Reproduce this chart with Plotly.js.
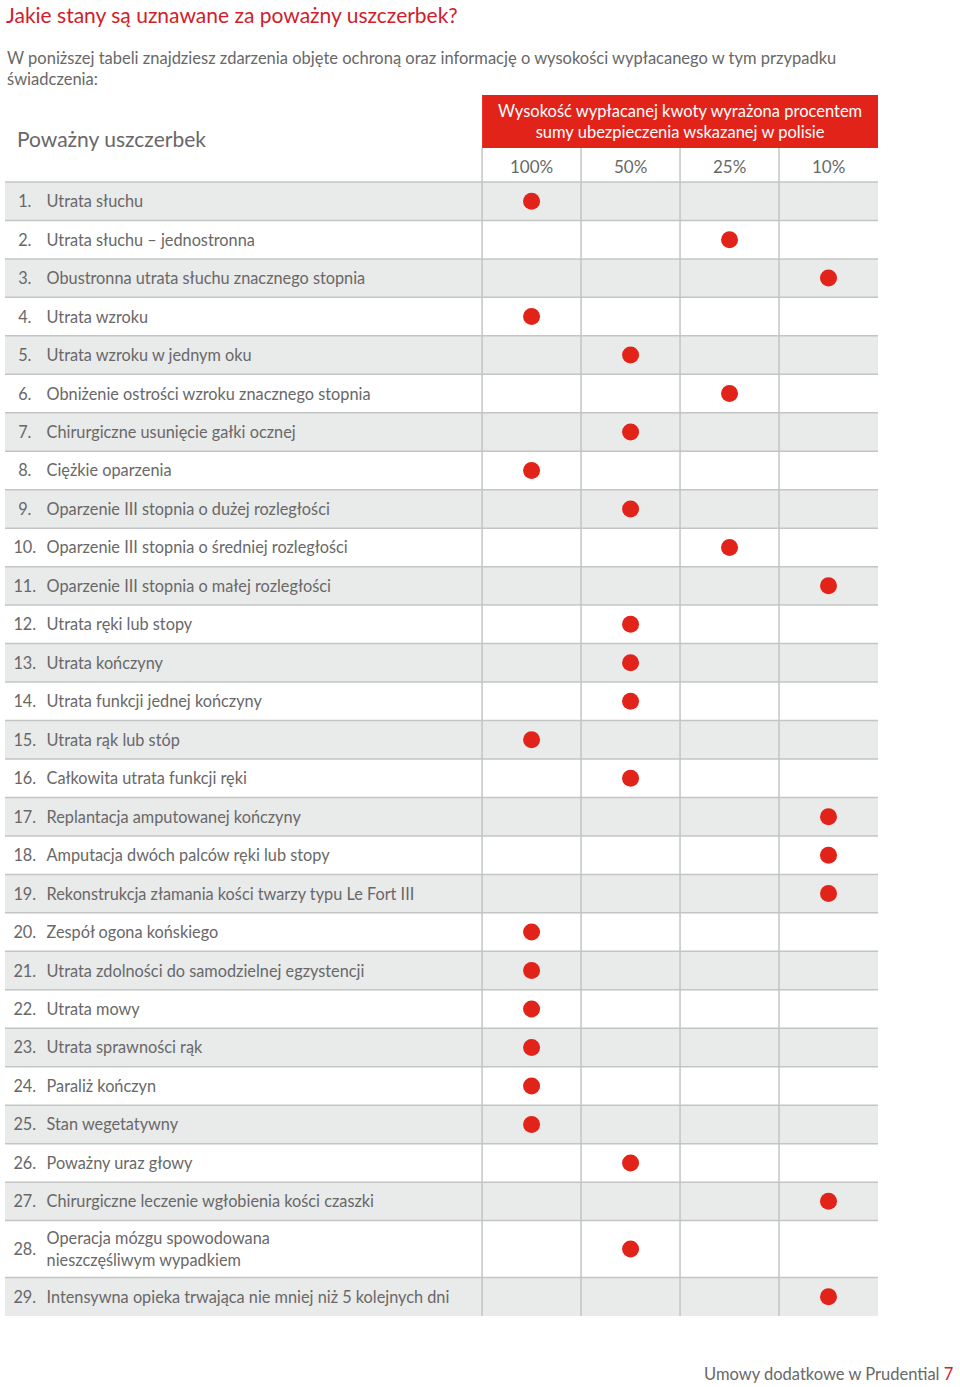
<!DOCTYPE html>
<html>
<head>
<meta charset="utf-8">
<script src="https://cdn.plot.ly/plotly-3.0.1.min.js"></script>
<style>
html,body{margin:0;padding:0;background:#fff;}
#chart{width:960px;height:1387px;}
</style>
</head>
<body>
<div id="chart"></div>
<script>
// ---------- DATA ----------
const conditions = [
  "Utrata słuchu",
  "Utrata słuchu – jednostronna",
  "Obustronna utrata słuchu znacznego stopnia",
  "Utrata wzroku",
  "Utrata wzroku w jednym oku",
  "Obniżenie ostrości wzroku znacznego stopnia",
  "Chirurgiczne usunięcie gałki ocznej",
  "Ciężkie oparzenia",
  "Oparzenie III stopnia o dużej rozległości",
  "Oparzenie III stopnia o średniej rozległości",
  "Oparzenie III stopnia o małej rozległości",
  "Utrata ręki lub stopy",
  "Utrata kończyny",
  "Utrata funkcji jednej kończyny",
  "Utrata rąk lub stóp",
  "Całkowita utrata funkcji ręki",
  "Replantacja amputowanej kończyny",
  "Amputacja dwóch palców ręki lub stopy",
  "Rekonstrukcja złamania kości twarzy typu Le Fort III",
  "Zespół ogona końskiego",
  "Utrata zdolności do samodzielnej egzystencji",
  "Utrata mowy",
  "Utrata sprawności rąk",
  "Paraliż kończyn",
  "Stan wegetatywny",
  "Poważny uraz głowy",
  "Chirurgiczne leczenie wgłobienia kości czaszki",
  "Operacja mózgu spowodowana<br>nieszczęśliwym wypadkiem",
  "Intensywna opieka trwająca nie mniej niż 5 kolejnych dni"
];
const payoutLevels = ["100%", "50%", "25%", "10%"];
const payout = [
  "100%", "25%", "10%", "100%", "50%", "25%", "50%", "100%", "50%", "25%",
  "10%", "50%", "50%", "50%", "100%", "50%", "10%", "10%", "10%", "100%",
  "100%", "100%", "100%", "100%", "100%", "50%", "10%", "50%", "10%"
];
const titleText = "Jakie stany są uznawane za poważny uszczerbek?";
const introText = "W poniższej tabeli znajdziesz zdarzenia objęte ochroną oraz informację o wysokości wypłacanego w tym przypadku<br>świadczenia:";
const leftHeader = "Poważny uszczerbek";
const rightHeader = "Wysokość wypłacanej kwoty wyrażona procentem<br>sumy ubezpieczenia wskazanej w polisie";
const footerText = "Umowy dodatkowe w Prudential <span style='color:#c8262c'>7</span>";

// ---------- LAYOUT GEOMETRY ----------
const W = 960, H = 1387;
const ml = 5, mr = 82, mt = 95, mb = 71;
const plotW = W - ml - mr, plotH = H - mt - mb;
const xMin = -5.32, xMax = 3.5;
const pctRowH = 0.883, redBoxH = 1.377;
const textShift = 0.05;

const rowH = conditions.map(c => c.split('<br>').length > 1 ? 1.48 : 1);
const rowTop = [];
let acc = 0;
rowH.forEach(h => { rowTop.push(acc); acc += h; });
const total = acc;
const rowMid = rowTop.map((t, i) => t + rowH[i] / 2);
const textMid = rowMid.map(v => v + textShift);
const yTopRange = -(pctRowH + redBoxH);

const px2paperX = px => (px - ml) / plotW;
const px2paperY = py => 1 - (py - mt) / plotH;

const RED = '#e2231a';
const GRAY_TXT = '#686868';
const LINE = '#c3c4c4';
const FILL = '#e9eaea';
const FONT = 'Lato, sans-serif';

// ---------- SHAPES ----------
const shapes = [];
rowTop.forEach((t, i) => {
  if (i % 2 === 0) {
    shapes.push({type: 'rect', xref: 'x', yref: 'y', x0: xMin, x1: xMax, y0: t, y1: t + rowH[i],
      fillcolor: FILL, line: {width: 0}, layer: 'below'});
  }
});
rowTop.forEach(t => {
  shapes.push({type: 'line', xref: 'x', yref: 'y', x0: xMin, x1: xMax, y0: t, y1: t,
    line: {color: LINE, width: 1.5}, layer: 'below'});
});
for (let i = 0; i < payoutLevels.length; i++) {
  shapes.push({type: 'line', xref: 'x', yref: 'y', x0: i - 0.5, x1: i - 0.5, y0: -pctRowH, y1: total,
    line: {color: LINE, width: 1.5}, layer: 'below'});
}
shapes.push({type: 'rect', xref: 'x', yref: 'y', x0: -0.5, x1: xMax, y0: yTopRange, y1: -pctRowH,
  fillcolor: RED, line: {width: 0}, layer: 'below'});

// ---------- ANNOTATIONS ----------
const annotations = [];
payoutLevels.forEach((p, i) => {
  annotations.push({xref: 'x', yref: 'y', x: i, y: -pctRowH / 2 + textShift, text: p, showarrow: false,
    font: {family: FONT, size: 17, color: GRAY_TXT}, xanchor: 'center', yanchor: 'middle'});
});
annotations.push({xref: 'x', yref: 'y', x: 1.5, y: yTopRange + redBoxH / 2, text: rightHeader, showarrow: false,
  font: {family: FONT, size: 16.5, color: '#ffffff'}, xanchor: 'center', yanchor: 'middle', align: 'center'});
annotations.push({xref: 'paper', yref: 'paper', x: px2paperX(15), y: px2paperY(139), text: leftHeader, showarrow: false,
  font: {family: FONT, size: 21, color: GRAY_TXT}, xanchor: 'left', yanchor: 'middle'});
annotations.push({xref: 'paper', yref: 'paper', x: px2paperX(5), y: px2paperY(69), text: introText, showarrow: false,
  font: {family: FONT, size: 16.5, color: GRAY_TXT}, xanchor: 'left', yanchor: 'middle', align: 'left'});
annotations.push({xref: 'paper', yref: 'paper', x: px2paperX(955), y: px2paperY(1374), text: footerText, showarrow: false,
  font: {family: FONT, size: 16.5, color: GRAY_TXT}, xanchor: 'right', yanchor: 'middle'});
annotations.push({xref: 'paper', yref: 'paper', x: px2paperX(4), y: px2paperY(15), text: titleText, showarrow: false,
  font: {family: FONT, size: 21, color: '#d0202a'}, xanchor: 'left', yanchor: 'middle'});

// ---------- TRACES ----------
const numTrace = {
  type: 'scatter', mode: 'text', x: conditions.map(() => -5.12), y: textMid,
  text: conditions.map((_, i) => (i + 1) + '.'), textposition: 'middle center',
  textfont: {family: FONT, size: 16.3, color: GRAY_TXT}, hoverinfo: 'skip', cliponaxis: false
};
const labelTrace = {
  type: 'scatter', mode: 'text', x: conditions.map(() => -4.9), y: textMid,
  text: conditions, textposition: 'middle right',
  textfont: {family: FONT, size: 16.3, color: GRAY_TXT}, hoverinfo: 'skip', cliponaxis: false
};
const dotTrace = {
  type: 'scatter', mode: 'markers', x: payout.map(p => payoutLevels.indexOf(p)), y: rowMid,
  marker: {size: 17, color: RED, line: {width: 0}}, hoverinfo: 'skip'
};

const layout = {
  width: W, height: H,
  margin: {l: ml, r: mr, t: mt, b: mb, pad: 0},
  paper_bgcolor: '#ffffff', plot_bgcolor: 'rgba(0,0,0,0)',
  showlegend: false, hovermode: false,
  xaxis: {range: [xMin, xMax], visible: false, fixedrange: true},
  yaxis: {range: [total, yTopRange], visible: false, fixedrange: true},
  shapes: shapes, annotations: annotations
};

Plotly.newPlot('chart', [numTrace, labelTrace, dotTrace], layout, {displayModeBar: false, staticPlot: true});
</script>
</body>
</html>
